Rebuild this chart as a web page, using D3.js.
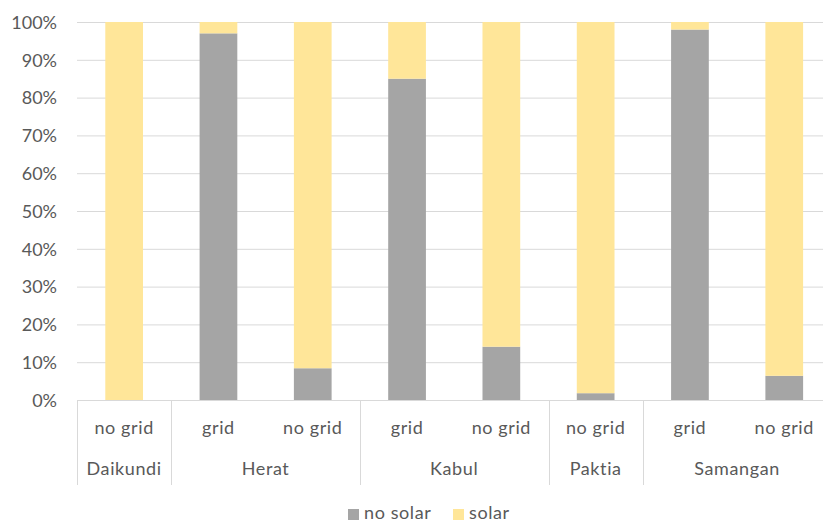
<!DOCTYPE html>
<html>
<head>
<meta charset="utf-8">
<script src="https://cdn.jsdelivr.net/npm/d3@7"></script>
<style>
  html, body { margin: 0; padding: 0; background: #fff; }
  svg { display: block; font-family: Lato, "Open Sans", sans-serif; }
</style>
</head>
<body>
<svg id="chart" width="823" height="522"></svg>
<script>
// Share of households with / without solar, by province and grid access (%)
const regions    = ["Daikundi", "Herat", "Herat", "Kabul", "Kabul", "Paktia", "Samangan", "Samangan"];
const gridAccess = ["no grid", "grid", "no grid", "grid", "no grid", "no grid", "grid", "no grid"];
const noSolar    = [0, 97, 8.4, 85, 14.1, 1.8, 98, 6.4];
const solar      = [100, 3, 91.6, 15, 85.9, 98.2, 2, 93.6];
const yTicks     = [0, 10, 20, 30, 40, 50, 60, 70, 80, 90, 100];
const seriesNames  = ["no solar", "solar"];
const seriesColors = ["#A5A5A5", "#FFE699"];

const svg = d3.select("#chart");
const textColor = "#595959";
const lineColor = "#D9D9D9";

const plotLeft = 77, slot = 94.3, plotTop = 22, plotBottom = 400;
const x = d3.scaleBand()
  .domain(d3.range(regions.length))
  .range([plotLeft, plotLeft + slot * regions.length])
  .paddingInner(0.6)
  .paddingOuter(0.3);
const y = d3.scaleLinear().domain([0, 100]).range([plotBottom, plotTop]);

// gridlines
svg.append("g")
  .selectAll("line").data(yTicks).join("line")
  .attr("x1", plotLeft).attr("x2", plotLeft + slot * regions.length)
  .attr("y1", d => y(d) + 0.5).attr("y2", d => y(d) + 0.5)
  .attr("stroke", lineColor).attr("stroke-width", 1);

// y axis labels
const yAxis = d3.axisLeft(y).tickValues(yTicks).tickFormat(d => d + "%").tickSize(0).tickPadding(0);
const gy = svg.append("g").attr("transform", `translate(${57},0.5)`).call(yAxis);
gy.select(".domain").remove();
gy.selectAll("text").attr("fill", textColor).style("font-size", "18px").style("font-family", "Lato, sans-serif");

// stacked bars
const rows = regions.map((r, i) => ({ i, "no solar": noSolar[i], "solar": solar[i] }));
const stacked = d3.stack().keys(seriesNames)(rows);
svg.append("g").selectAll("g").data(stacked).join("g")
  .attr("fill", (d, k) => seriesColors[k])
  .selectAll("rect").data(d => d).join("rect")
  .attr("x", d => x(d.data.i))
  .attr("width", x.bandwidth())
  .attr("y", d => y(d[1]))
  .attr("height", d => y(d[0]) - y(d[1]));

// baseline
svg.append("line")
  .attr("x1", plotLeft).attr("x2", plotLeft + slot * regions.length)
  .attr("y1", plotBottom + 0.5).attr("y2", plotBottom + 0.5)
  .attr("stroke", lineColor).attr("stroke-width", 1);

// inner category labels
svg.append("g").selectAll("text").data(gridAccess).join("text")
  .attr("x", (d, i) => x(i) + x.bandwidth() / 2)
  .attr("y", 428)
  .attr("dy", "0.35em")
  .attr("text-anchor", "middle")
  .attr("fill", textColor)
  .style("font-size", "18px")
  .style("letter-spacing", "0.6px")
  .text(d => d);

// group spans
const groups = [];
regions.forEach((r, i) => {
  const g = groups[groups.length - 1];
  if (g && g.name === r) g.end = i;
  else groups.push({ name: r, start: i, end: i });
});
const groupEdge = i => plotLeft + slot * i;

svg.append("g").selectAll("line").data([0, ...groups.map(g => g.end + 1)]).join("line")
  .attr("x1", d => Math.round(groupEdge(d)) + 0.5).attr("x2", d => Math.round(groupEdge(d)) + 0.5)
  .attr("y1", plotBottom).attr("y2", 485)
  .attr("stroke", lineColor).attr("stroke-width", 1);

svg.append("g").selectAll("text").data(groups).join("text")
  .attr("x", g => (groupEdge(g.start) + groupEdge(g.end + 1)) / 2)
  .attr("y", 469)
  .attr("dy", "0.35em")
  .attr("text-anchor", "middle")
  .attr("fill", textColor)
  .style("font-size", "18px")
  .style("letter-spacing", "0.6px")
  .text(g => g.name);

// legend
const legend = svg.append("g");
const legendItems = [{ x: 348, name: seriesNames[0], color: seriesColors[0] },
                     { x: 453, name: seriesNames[1], color: seriesColors[1] }];
legend.selectAll("rect").data(legendItems).join("rect")
  .attr("x", d => d.x).attr("y", 509).attr("width", 11).attr("height", 11)
  .attr("fill", d => d.color);
legend.selectAll("text").data(legendItems).join("text")
  .attr("x", d => d.x + 16).attr("y", 513)
  .attr("dy", "0.35em")
  .attr("fill", textColor)
  .style("font-size", "18px")
  .style("letter-spacing", "0.6px")
  .text(d => d.name);
</script>
</body>
</html>
